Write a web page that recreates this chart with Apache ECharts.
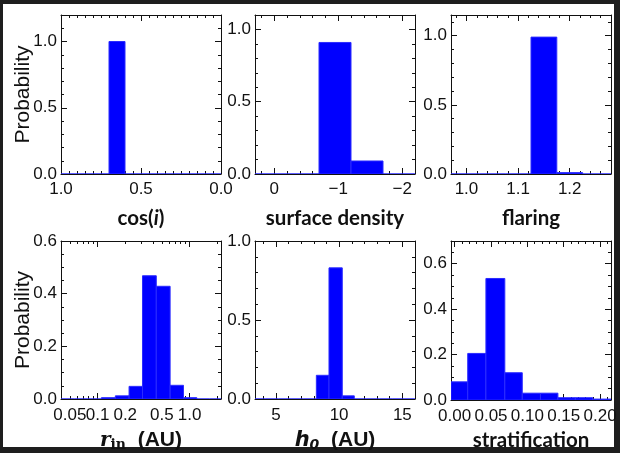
<!DOCTYPE html>
<html>
<head>
<meta charset="utf-8">
<script src="https://cdn.jsdelivr.net/npm/echarts@6.0.0/dist/echarts.min.js"></script>
<style>
  html, body { margin: 0; padding: 0; background: #1e1e1e; }
  #card { position: absolute; left: 3px; top: 4px; width: 611px; height: 443px; background: #fff; }
  #chart { position: absolute; left: 0; top: 0; width: 620px; height: 453px; }
</style>
</head>
<body>
<div id="card"></div>
<div id="chart"></div>
<script>
// histogram bins (edges) and probabilities
var cosEdges = [0.0, 0.1, 0.2, 0.3, 0.4, 0.5, 0.6, 0.7, 0.8, 0.9, 1.0];
var cosProb = [0, 0, 0, 0, 0, 0, 1.0, 0, 0, 0];

var sigmaEdges = [0.3, -0.2, -0.7, -1.2, -1.7, -2.2];
var sigmaProb = [0, 0, 0.91, 0.09, 0];

var flareEdges = [0.97, 1.025, 1.075, 1.125, 1.175, 1.225, 1.28];
var flareProb = [0, 0, 0, 0.99, 0.01, 0];

var rinEdges = [0.04, 0.056, 0.078, 0.110, 0.156, 0.220, 0.308, 0.435, 0.615, 0.86, 1.20, 1.65, 2.2];
var rinProb = [0, 0, 0, 0.005, 0.012, 0.048, 0.468, 0.428, 0.052, 0.005, 0, 0];

var h0Edges = [3.35, 4.2, 5.2, 6.2, 7.2, 8.2, 9.2, 10.25, 11.2, 12.2, 13.2, 14.2, 15.2, 16.0];
var h0Prob = [0, 0, 0, 0, 0, 0.15, 0.83, 0.02, 0, 0, 0, 0, 0];

var stratEdges = [-0.005, 0.018, 0.043, 0.069, 0.093, 0.118, 0.142, 0.166, 0.19, 0.215];
var stratProb = [0.08, 0.205, 0.535, 0.12, 0.03, 0.03, 0.01, 0.01, 0.004];

// tick labels
var cosTicks = [0.0, 0.5, 1.0];
var sigmaTicks = [0, -1, -2];
var flareTicks = [1.0, 1.1, 1.2];
var rinLabels = [0.1, 0.2, 0.5, 1.0];
var rinLabelsLow = [0.05]; // drawn on its own axis, it overlaps 0.1 like the original
var rinMajor = [0.1, 1.0];
var rinMinor = [0.04, 0.05, 0.06, 0.07, 0.08, 0.09, 0.2, 0.3, 0.4, 0.5, 0.6, 0.7, 0.8, 0.9, 2.0];
var h0Ticks = [5, 10, 15];
var stratTicks = [0.00, 0.05, 0.10, 0.15, 0.20];
var probTicksA = [0.0, 0.5, 1.0];
var probTicksB = [0.0, 0.2, 0.4, 0.6];

var INK = '#111';
var BLUE = '#0000ff';
var COLS = [61, 255, 451];
var ROWS = [15, 241];
var W = 160, H = 159;
var SANS = 'Liberation Sans';

function steps(from, to, step) {
  var out = [];
  var n = Math.round((to - from) / step);
  for (var i = 0; i <= n; i++) out.push(+(from + i * step).toFixed(6));
  return out;
}
function fix(d) { return function (v) { return (+v).toFixed(d); }; }

function bins(edges, prob) {
  return prob.map(function (p, i) { return [edges[i], edges[i + 1], p]; });
}

var titleFont = { fontFamily: 'Lato', fontWeight: 'bold', fontSize: 20.5, color: INK };

var panels = [
  {
    x: { min: 0, max: 1, inverse: true, labels: cosTicks, major: cosTicks, minor: steps(0, 1, 0.05), fmt: fix(1) },
    y: { max: 1.2, labels: probTicksA, minor: steps(0, 1.2, 0.1) },
    data: bins(cosEdges, cosProb),
    xName: '{a|cos(}{i|i}{a|)}', yName: 'Probability'
  },
  {
    x: { min: -2.2, max: 0.3, inverse: true, labels: sigmaTicks, major: sigmaTicks, minor: steps(-2.2, 0.2, 0.2),
         fmt: function (v) { return v === 0 ? '0' : '\u2212' + Math.abs(v); } },
    y: { max: 1.1, labels: probTicksA, minor: steps(0, 1.1, 0.1) },
    data: bins(sigmaEdges, sigmaProb),
    xName: 'surface density'
  },
  {
    x: { min: 0.97, max: 1.28, labels: flareTicks, major: flareTicks, minor: steps(0.98, 1.28, 0.02), fmt: fix(1) },
    y: { max: 1.15, labels: probTicksA, minor: steps(0, 1.1, 0.1) },
    data: bins(flareEdges, flareProb),
    xName: 'flaring'
  },
  {
    x: { type: 'log', min: 0.04, max: 2.2, labels: rinLabels, extraLabels: rinLabelsLow, major: rinMajor, minor: rinMinor,
         fmt: function (v) { return v === 1 ? '1.0' : String(+(+v).toPrecision(3)); } },
    y: { max: 0.6, labels: probTicksB, minor: steps(0, 0.6, 0.05) },
    data: bins(rinEdges, rinProb),
    xName: '{r|r}{s|in}{a|  (AU)}', yName: 'Probability'
  },
  {
    x: { min: 3.35, max: 16.0, labels: h0Ticks, major: h0Ticks, minor: steps(4, 16, 1), fmt: function (v) { return String(v); } },
    y: { max: 1.0, labels: probTicksA, minor: steps(0, 1.0, 0.1) },
    data: bins(h0Edges, h0Prob),
    xName: '{h|h}{z|0}{a|  (AU)}'
  },
  {
    x: { min: -0.005, max: 0.215, labels: stratTicks, major: stratTicks, minor: steps(0, 0.21, 0.01), fmt: fix(2) },
    y: { max: 0.7, labels: probTicksB, minor: steps(0, 0.7, 0.05) },
    data: bins(stratEdges, stratProb),
    xName: 'stratification'
  }
];

var grids = [], xAxes = [], yAxes = [], series = [];

function labelStyle(kind, row, values, fmt) {
  return {
    show: true, customValues: values, margin: kind === 'x' ? (row === 0 ? 7 : 8) : 4,
    showMinLabel: true, showMaxLabel: true, hideOverlap: false,
    formatter: fmt, fontFamily: SANS, fontSize: 17, color: INK
  };
}

function axisPair(kind, gi, spec, extra, row) {
  var common = {
    gridIndex: gi,
    type: spec.type || 'value',
    min: kind === 'x' ? spec.min : 0,
    max: spec.max,
    inverse: !!spec.inverse,
    splitLine: { show: false },
    minorTick: { show: false },
    axisLine: { show: false, onZero: false }
  };
  if (common.type === 'log') common.logBase = 10;
  var fmt = kind === 'x' ? spec.fmt : fix(1);
  var sides = kind === 'x' ? ['bottom', 'top'] : ['left', 'right'];
  var out = [];
  sides.forEach(function (side, si) {
    var major = echarts.util.merge(echarts.util.clone(common), {
      position: side,
      axisLine: { show: true, onZero: false, lineStyle: { color: INK, width: 1 } },
      axisTick: { show: true, inside: true, length: 6, lineStyle: { color: INK }, customValues: kind === 'x' ? spec.major : spec.labels },
      axisLabel: si === 0 ? labelStyle(kind, row, spec.labels, fmt) : { show: false }
    }, true);
    if (si === 0 && extra) echarts.util.merge(major, extra, true);
    var minor = echarts.util.merge(echarts.util.clone(common), {
      position: side,
      axisTick: { show: true, inside: true, length: 3, lineStyle: { color: INK }, customValues: spec.minor },
      axisLabel: si === 0 && spec.extraLabels ? labelStyle(kind, row, spec.extraLabels, fmt) : { show: false }
    }, true);
    out.push(major, minor);
  });
  return out;
}

panels.forEach(function (p, gi) {
  var col = gi % 3, row = Math.floor(gi / 3);
  grids.push({ left: COLS[col], top: ROWS[row], width: W, height: H });

  var xIdx = xAxes.length, yIdx = yAxes.length;
  xAxes.push.apply(xAxes, axisPair('x', gi, p.x, {
    name: p.xName, nameLocation: 'middle', nameGap: row === 0 ? 34 : 30,
    nameTextStyle: {
      fontFamily: 'Lato', fontWeight: 'bold', fontSize: 20.5, color: INK,
      rich: {
        a: row === 0 ? titleFont : { fontFamily: SANS, fontWeight: 'bold', fontSize: 21, color: INK },
        i: { fontFamily: 'Lato', fontWeight: 'bold', fontStyle: 'italic', fontSize: 20.5, color: INK },
        r: { fontFamily: 'DejaVu Serif', fontWeight: 'bold', fontStyle: 'italic', fontSize: 20, color: INK },
        s: { fontFamily: 'DejaVu Serif', fontWeight: 'bold', fontSize: 14, color: INK, padding: [9, 0, 0, 0] },
        h: { fontFamily: 'DejaVu Sans', fontWeight: 'bold', fontStyle: 'italic', fontSize: 21, color: INK },
        z: { fontFamily: 'DejaVu Sans', fontWeight: 'bold', fontStyle: 'italic', fontSize: 14, color: INK, padding: [9, 0, 0, 0] }
      }
    }
  }, row));
  yAxes.push.apply(yAxes, axisPair('y', gi, p.y, p.yName ? {
    name: p.yName, nameLocation: 'middle', nameGap: 27, nameRotate: 90, nameMoveOverlap: false,
    nameTextStyle: { fontFamily: SANS, fontSize: 21, color: INK }
  } : null, row));

  series.push({
    type: 'custom',
    xAxisIndex: xIdx,
    yAxisIndex: yIdx,
    data: p.data,
    clip: true,
    renderItem: function (params, api) {
      var a = api.coord([api.value(0), api.value(2)]);
      var b = api.coord([api.value(1), 0]);
      return {
        type: 'rect',
        shape: { x: Math.min(a[0], b[0]), y: a[1], width: Math.abs(b[0] - a[0]), height: b[1] - a[1] },
        style: { fill: BLUE, stroke: '#2b2bff', lineWidth: 1 }
      };
    }
  });
});

var chart = echarts.init(document.getElementById('chart'), null, { renderer: 'canvas' });
chart.setOption({
  animation: false,
  backgroundColor: 'transparent',
  grid: grids,
  xAxis: xAxes,
  yAxis: yAxes,
  series: series
});
</script>
</body>
</html>
